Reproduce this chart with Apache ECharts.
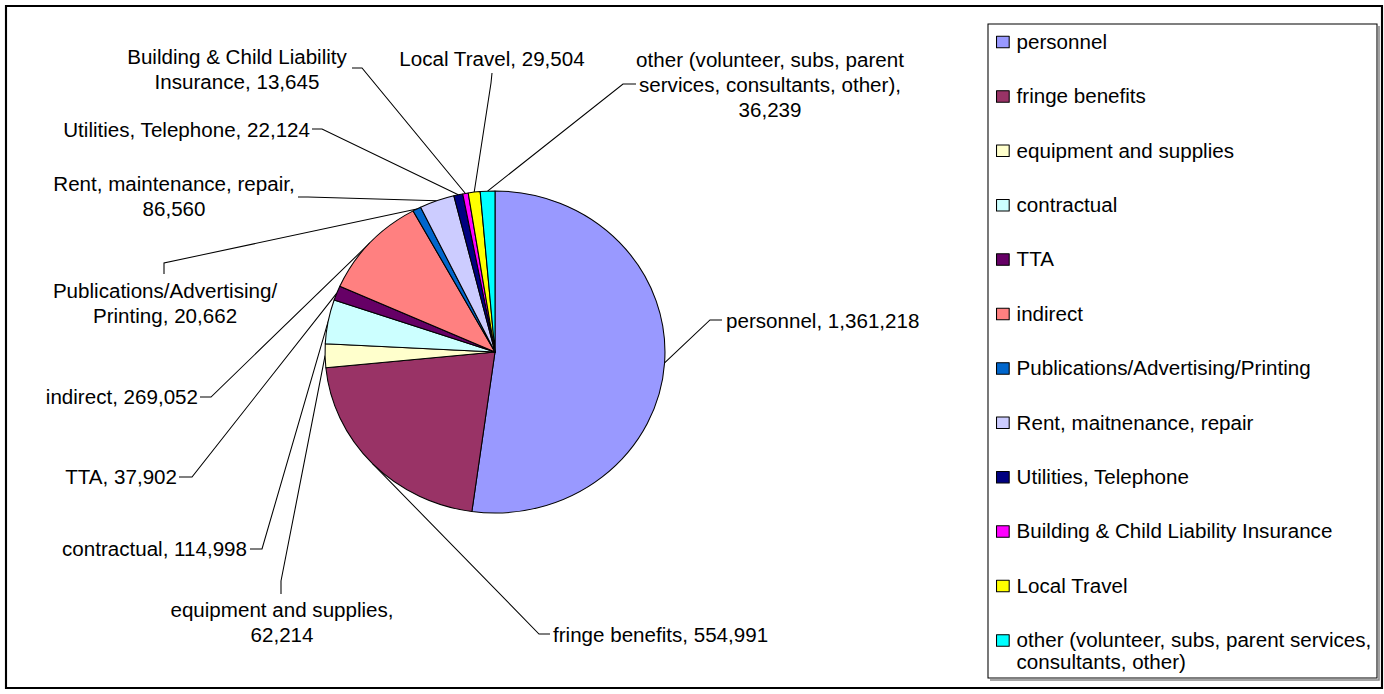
<!DOCTYPE html>
<html>
<head>
<meta charset="utf-8">
<script src="https://cdn.jsdelivr.net/npm/echarts@6/dist/echarts.min.js"></script>
<style>
html, body { margin: 0; padding: 0; background: #fff; overflow: hidden; }
#wrap { width: 1384px; height: 694px; overflow: hidden; position: relative; background: #fff; }
#chart { width: 1311px; height: 694px; transform-origin: 0 0; transform: scaleX(1.05568); }
</style>
</head>
<body>
<div id="wrap"><div id="chart"></div></div>
<script>
// ---------------- data ----------------
const categories = [
  'personnel',
  'fringe benefits',
  'equipment and supplies',
  'contractual',
  'TTA',
  'indirect',
  'Publications/Advertising/Printing',
  'Rent, maitnenance, repair',
  'Utilities, Telephone',
  'Building & Child Liability Insurance',
  'Local Travel',
  'other (volunteer, subs, parent services, consultants, other)'
];
const values = [1361218, 554991, 62214, 114998, 37902, 269052, 20662, 86560, 22124, 13645, 29504, 36239];
const colors = ['#9999FF', '#993366', '#FFFFCC', '#CCFFFF', '#660066', '#FF8080',
                '#0066CC', '#CCCCFF', '#000080', '#FF00FF', '#FFFF00', '#00FFFF'];
const labelTexts = [
  'personnel',
  'fringe benefits',
  'equipment and supplies',
  'contractual',
  'TTA',
  'indirect',
  'Publications/Advertising/\nPrinting',
  'Rent, maintenance, repair',
  'Utilities, Telephone',
  'Building & Child Liability\nInsurance',
  'Local Travel',
  'other (volunteer, subs, parent\nservices, consultants, other)'
];
const labelSeparators = [', ', ', ', ',\n', ', ', ', ', ', ', ', ', ',\n', ', ', ', ', ', ', ',\n'];
const legendTexts = [
  'personnel',
  'fringe benefits',
  'equipment and supplies',
  'contractual',
  'TTA',
  'indirect',
  'Publications/Advertising/Printing',
  'Rent, maitnenance, repair',
  'Utilities, Telephone',
  'Building & Child Liability Insurance',
  'Local Travel',
  '{a|other (volunteer, subs, parent services,}\n{b|consultants, other)}'
];

// ---------------- layout ----------------
const S = 1384 / 1311;           // horizontal stretch of the picture
const FONT = '"Liberation Sans", Arial, sans-serif';
const labelPlacement = [
  { x: 726, y: 321,   align: 'left',   end: [722, 320], bend: [710, 320] },
  { x: 553, y: 635,   align: 'left',   end: [550, 634], bend: [539, 634] },
  { x: 282, y: 623,   align: 'center', end: [281, 594], bend: [281, 581] },
  { x: 247, y: 549,   align: 'right',  end: [250, 549], bend: [262, 549] },
  { x: 177, y: 477,   align: 'right',  end: [179, 477], bend: [192, 477] },
  { x: 198, y: 397,   align: 'right',  end: [200, 397], bend: [211, 397] },
  { x: 165, y: 303.5, align: 'center', end: [164, 274], bend: [164, 263] },
  { x: 174, y: 197,   align: 'center', end: [298, 197], bend: [308, 197] },
  { x: 310, y: 130,   align: 'right',  end: [312, 129], bend: [322, 129] },
  { x: 237, y: 69.5,  align: 'center', end: [352, 68],  bend: [362, 68] },
  { x: 492, y: 59,    align: 'center', end: [492, 73],  bend: [491, 83] },
  { x: 770, y: 85,    align: 'center', end: [636, 84],  bend: [623, 84] }
];

const fmt = v => Number(v).toLocaleString('en-US');

const chart = echarts.init(document.getElementById('chart'), null, { renderer: 'svg', width: 1311, height: 694 });

const option = {
  animation: false,
  backgroundColor: '#ffffff',
  textStyle: { fontFamily: FONT },
  graphic: [
    { type: 'rect', silent: true, shape: { x: 6 / S, y: 6, width: (1382 - 6) / S, height: 682 },
      style: { fill: null, stroke: '#000', lineWidth: 2 } },
    { type: 'polyline', silent: true,
      shape: { points: [[1379 / S, 26], [1379 / S, 680], [990 / S, 680]] },
      style: { fill: null, stroke: '#888', lineWidth: 1.5 } },
    { type: 'rect', silent: true, shape: { x: 988 / S, y: 24, width: (1377 - 988) / S, height: 654 },
      style: { fill: null, stroke: '#000', lineWidth: 1 } }
  ],
  legend: {
    orient: 'vertical',
    left: 996 / S,
    top: 30,
    padding: 0,
    itemGap: 30.4,
    itemWidth: 12,
    itemHeight: 11.5,
    icon: 'rect',
    selectedMode: false,
    itemStyle: { borderColor: '#000', borderWidth: 1 },
    textStyle: {
      fontSize: 19.5, lineHeight: 24, color: '#000', fontFamily: FONT, padding: [0, 0, 0, 2],
      rich: {
        a: { fontSize: 19.5, lineHeight: 24, color: '#000', fontFamily: FONT },
        b: { fontSize: 19.5, lineHeight: 0, verticalAlign: 'top', color: '#000', fontFamily: FONT }
      }
    },
    data: categories,
    formatter: name => legendTexts[categories.indexOf(name)]
  },
  series: [{
    type: 'pie',
    center: [495 / S, 352],
    radius: 161,
    startAngle: 90,
    clockwise: true,
    avoidLabelOverlap: false,
    silent: true,
    data: categories.map((c, i) => ({ name: c, value: values[i], itemStyle: { color: colors[i] } })),
    itemStyle: { borderColor: '#000', borderWidth: 1 },
    label: {
      show: true,
      position: 'outside',
      color: '#000',
      fontSize: 19.5,
      lineHeight: 25,
      fontFamily: FONT,
      formatter: p => labelTexts[p.dataIndex] + labelSeparators[p.dataIndex] + fmt(p.value)
    },
    labelLine: { show: true, length: 10, length2: 10, smooth: false, lineStyle: { color: '#000', width: 1 } },
    labelLayout: function (params) {
      const L = labelPlacement[params.dataIndex];
      const out = { x: L.x / S, y: L.y, align: L.align, verticalAlign: 'middle' };
      if (params.labelLinePoints && params.labelLinePoints.length) {
        out.labelLinePoints = [
          params.labelLinePoints[0],
          [L.bend[0] / S, L.bend[1]],
          [L.end[0] / S, L.end[1]]
        ];
      }
      return out;
    }
  }]
};
chart.setOption(option);
</script>
</body>
</html>
